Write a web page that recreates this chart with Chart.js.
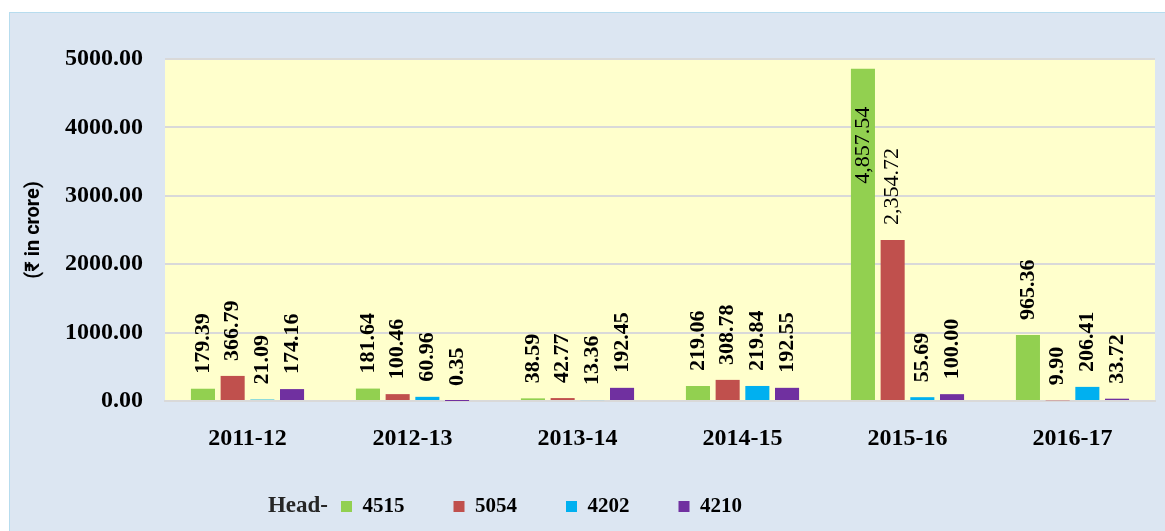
<!DOCTYPE html>
<html>
<head>
<meta charset="utf-8">
<script src="https://cdn.jsdelivr.net/npm/chart.js@4"></script>
<style>
  html, body { margin: 0; padding: 0; background: #ffffff; }
  #wrap { width: 1165px; height: 531px; position: relative; }
</style>
</head>
<body>
<div id="wrap"><canvas id="graph" width="1165" height="531"></canvas></div>
<script>
// Chart data
const years = ['2011-12', '2012-13', '2013-14', '2014-15', '2015-16', '2016-17'];
const head4515 = [179.39, 181.64, 38.59, 219.06, 4857.54, 965.36];
const head5054 = [366.79, 100.46, 42.77, 308.78, 2354.72, 9.90];
const head4202 = [21.09, 60.96, 13.36, 219.84, 55.69, 206.41];
const head4210 = [174.16, 0.35, 192.45, 192.55, 100.00, 33.72];
const yTicks = [0, 1000, 2000, 3000, 4000, 5000];

const serif = "'Liberation Serif', 'Times New Roman', serif";

// backgrounds: outer blue panel + yellow plot area
const backgroundPlugin = {
  id: 'backgrounds',
  beforeDraw(chart) {
    const { ctx, chartArea } = chart;
    ctx.save();
    ctx.fillStyle = '#dce6f2';
    ctx.fillRect(9, 12, chart.width, chart.height);
    ctx.strokeStyle = '#b7dcee';
    ctx.lineWidth = 1;
    ctx.strokeRect(9.5, 12.5, chart.width, chart.height);
    ctx.fillStyle = '#ffffcc';
    ctx.fillRect(chartArea.left, chartArea.top, chartArea.right - chartArea.left, chartArea.bottom - chartArea.top);
    ctx.restore();
  },
};

// rotated value labels above each bar
const valueLabels = {
  id: 'valueLabels',
  afterDatasetsDraw(chart) {
    const { ctx, chartArea } = chart;
    ctx.save();
    ctx.fillStyle = '#000000';
    ctx.textBaseline = 'middle';
    chart.data.datasets.forEach((ds, i) => {
      const meta = chart.getDatasetMeta(i);
      meta.data.forEach((bar, j) => {
        const v = ds.data[j];
        const big = v >= 1000;
        const text = big
          ? v.toLocaleString('en-US', { minimumFractionDigits: 2, maximumFractionDigits: 2 })
          : v.toFixed(2);
        ctx.font = (big ? 'normal' : 'bold') + ' 22px ' + serif;
        const w = ctx.measureText(text).width;
        let y = bar.y - 15;
        let align = 'left';
        if (y - w < chartArea.top) {
          // no room above: put it inside the bar
          y = bar.y + 38;
          align = 'right';
        }
        ctx.save();
        ctx.translate(bar.x, y);
        ctx.rotate(-Math.PI / 2);
        ctx.textAlign = align;
        ctx.fillText(text, 0, 0);
        ctx.restore();
      });
    });
    ctx.restore();
  },
};

// legend placement + "Head-" caption
const legendTweak = {
  id: 'legendTweak',
  afterLayout(chart) {
    const l = chart.legend;
    l.right -= 72;
    l.width -= 72;
  },
  afterDraw(chart) {
    const l = chart.legend;
    if (!l.legendHitBoxes || !l.legendHitBoxes.length) return;
    const hb = l.legendHitBoxes[0];
    const { ctx } = chart;
    ctx.save();
    ctx.font = 'bold 23px ' + serif;
    ctx.fillStyle = '#262626';
    ctx.textAlign = 'right';
    ctx.textBaseline = 'middle';
    ctx.fillText('Head-', hb.left - 13, hb.top + hb.height / 2);
    ctx.restore();
  },
};

const ctx = document.getElementById('graph').getContext('2d');
const chart = new Chart(ctx, {
  type: 'bar',
  data: {
    labels: years,
    datasets: [
      { label: '4515', data: head4515, backgroundColor: '#92d050' },
      { label: '5054', data: head5054, backgroundColor: '#c0504d' },
      { label: '4202', data: head4202, backgroundColor: '#00b0f0' },
      { label: '4210', data: head4210, backgroundColor: '#7030a0' },
    ],
  },
  options: {
    responsive: false,
    animation: false,
    devicePixelRatio: 1,
    layout: { padding: { top: 59, right: 10, bottom: 4, left: 0 } },
    datasets: {
      bar: { categoryPercentage: 0.72, barPercentage: 0.81 },
    },
    scales: {
      x: {
        grid: { display: false, drawTicks: false },
        border: { display: true, color: '#d9d9d9', width: 2 },
        ticks: { color: '#000000', font: { family: serif, size: 24, weight: 'bold' }, padding: 23 },
        afterFit: (s) => { s.height = 46; },
      },
      y: {
        min: 0,
        max: 5000,
        afterBuildTicks: (s) => { s.ticks = yTicks.map((v) => ({ value: v })); },
        grid: { color: '#d9d9d9', lineWidth: 2, drawTicks: false },
        border: { display: false },
        ticks: {
          color: '#000000',
          font: { family: serif, size: 24, weight: 'bold' },
          padding: 22,
          callback: (v) => Number(v).toFixed(2),
        },
        title: {
          display: true,
          text: '(₹ in crore)',
          color: '#000000',
          font: { family: "Roboto, 'Noto Sans', sans-serif", size: 20, weight: 'bold' },
          padding: { top: 22, bottom: 0 },
        },
        afterFit: (s) => { s.width = 165; },
      },
    },
    plugins: {
      legend: {
        position: 'bottom',
        align: 'center',
        labels: {
          boxWidth: 11,
          boxHeight: 11,
          padding: 49,
          color: '#000000',
          font: { family: serif, size: 21, weight: 'bold' },
        },
      },
      tooltip: { enabled: false },
    },
  },
  plugins: [backgroundPlugin, valueLabels, legendTweak],
});
</script>
</body>
</html>
